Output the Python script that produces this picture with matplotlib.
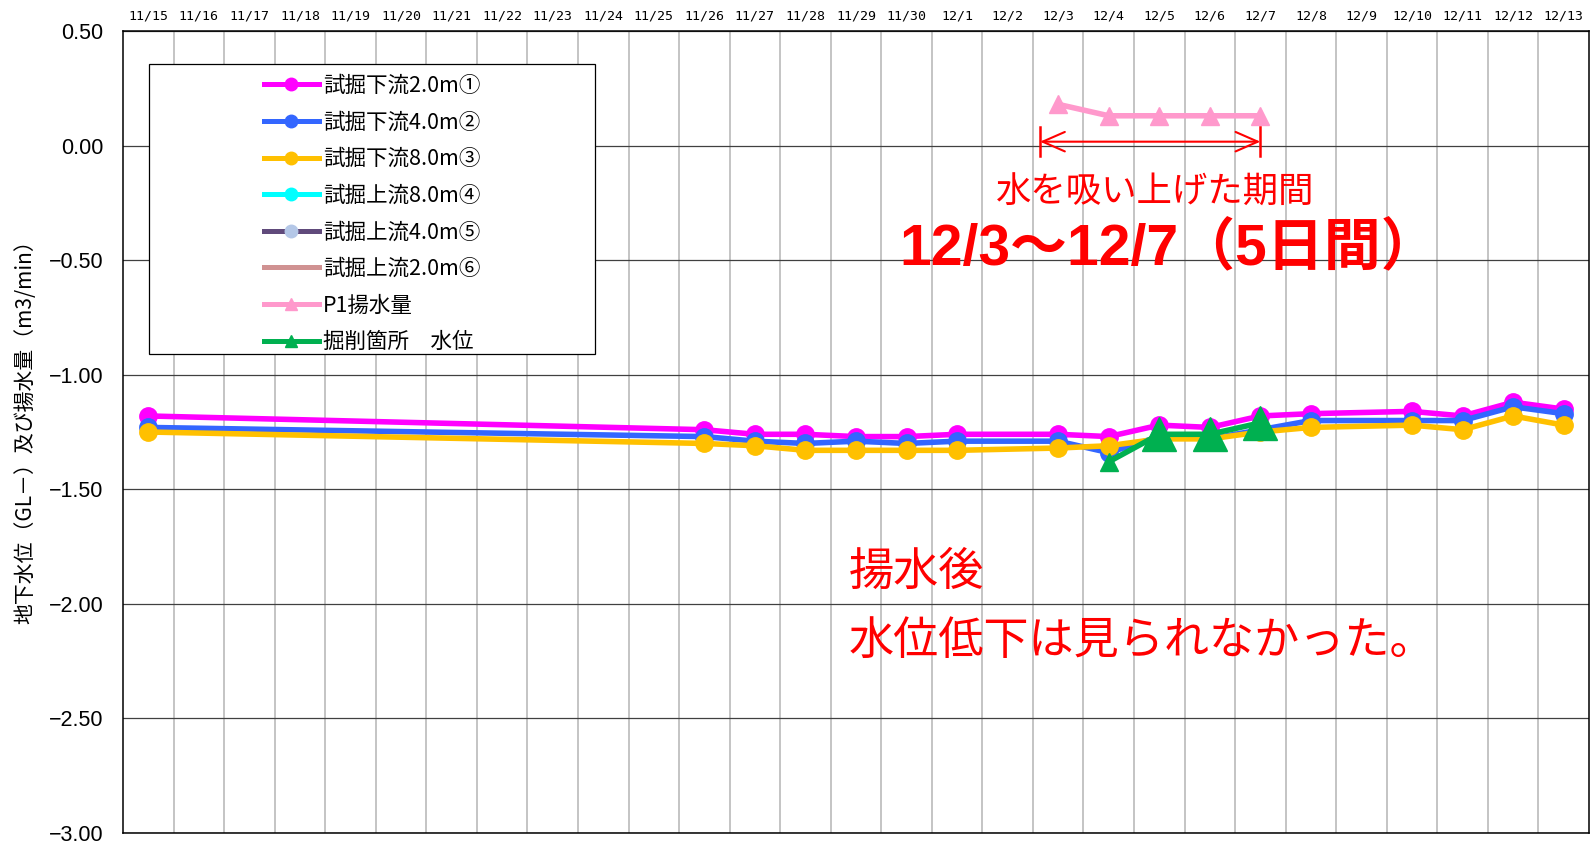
import numpy as np
import matplotlib
matplotlib.use("Agg")
import matplotlib.pyplot as plt
from matplotlib.lines import Line2D
from matplotlib.patches import Rectangle

plt.rcParams['font.family'] = ['Liberation Sans', 'Noto Sans CJK JP', 'DejaVu Sans']

# ---- data -------------------------------------------------------------
dates = ["11/15", "11/16", "11/17", "11/18", "11/19", "11/20", "11/21", "11/22",
         "11/23", "11/24", "11/25", "11/26", "11/27", "11/28", "11/29", "11/30",
         "12/1", "12/2", "12/3", "12/4", "12/5", "12/6", "12/7", "12/8", "12/9",
         "12/10", "12/11", "12/12", "12/13"]
N = np.nan
down_2m = [-1.18, N, N, N, N, N, N, N, N, N, N, -1.24, -1.26, -1.26, -1.27, -1.27,
           -1.26, N, -1.26, -1.27, -1.22, -1.23, -1.18, -1.17, N, -1.16, -1.18, -1.12, -1.15]
down_4m = [-1.23, N, N, N, N, N, N, N, N, N, N, -1.27, -1.29, -1.30, -1.29, -1.30,
           -1.29, N, -1.29, -1.34, -1.27, -1.28, -1.24, -1.20, N, -1.20, -1.20, -1.14, -1.17]
down_8m = [-1.25, N, N, N, N, N, N, N, N, N, N, -1.30, -1.31, -1.33, -1.33, -1.33,
           -1.33, N, -1.32, -1.31, -1.28, -1.28, -1.25, -1.23, N, -1.22, -1.24, -1.18, -1.22]
up_8m = [N] * 29
up_4m = [N] * 29
up_2m = [N] * 29
pump_p1 = [N] * 18 + [0.18, 0.13, 0.13, 0.13, 0.13] + [N] * 6
pit_level = [N] * 19 + [-1.38, -1.26, -1.26, -1.21] + [N] * 6

series_labels = ["試掘下流2.0m①", "試掘下流4.0m②", "試掘下流8.0m③", "試掘上流8.0m④",
                 "試掘上流4.0m⑤", "試掘上流2.0m⑥", "P1揚水量", "掘削箇所　水位"]
yticks = [0.50, 0.00, -0.50, -1.00, -1.50, -2.00, -2.50, -3.00]

# ---- figure -----------------------------------------------------------
W, H = 1595, 844
fig = plt.figure(figsize=(W / 100, H / 100), dpi=100)
ax = fig.add_axes([123 / W, 1 - 833 / H, (1589 - 123) / W, (833 - 31) / H])

x = np.arange(len(dates))


def draw(values, color, marker=None, ms=12.5, lw=4.0, z=3, mec=None):
    v = np.asarray(values, dtype=float)
    ok = ~np.isnan(v)
    if ok.any():
        ax.plot(x[ok], v[ok], color=color, lw=lw, marker=marker, ms=ms,
                mec=mec or color, mfc=color, zorder=z, solid_joinstyle='round',
                solid_capstyle='round')


draw(down_2m, '#FF00FF', 'o', 12.5, z=3.0)
draw(down_4m, '#3366FF', 'o', 12.5, z=3.1)
draw(down_8m, '#FFC000', 'o', 12.5, z=3.2)
draw(up_8m, '#00FFFF', 'o', z=3.3)
draw(up_4m, '#604A7B', 'o', z=3.4)
draw(up_2m, '#D09292', None, z=3.5)
draw(pump_p1, '#FF99CC', '^', 12.5, z=3.6)

# excavation water level: first reading small, later readings emphasised
pit = np.asarray(pit_level, dtype=float)
ok = ~np.isnan(pit)
ax.plot(x[ok], pit[ok], color='#00B050', lw=4.0, zorder=3.7, solid_joinstyle='round')
pit_idx = x[ok]
ax.plot(pit_idx[:1], pit[ok][:1], ls='none', marker='^', ms=12.5, color='#00B050', zorder=3.8)
ax.plot(pit_idx[1:], pit[ok][1:], ls='none', marker='^', ms=24, color='#00B050', zorder=3.8)

# ---- axes -------------------------------------------------------------
ax.set_xlim(-0.5, len(dates) - 0.5)
ax.set_ylim(-3.0, 0.5)
ax.set_yticks(yticks)
ax.set_yticklabels([f"{t:.2f}".replace("-", "\u2212") for t in yticks], fontsize=15.5)
ax.tick_params(axis='y', length=0, pad=14)

ax.set_xticks(x)
ax.set_xticklabels(dates, fontsize=9.5, family='DejaVu Sans Mono')
ax.xaxis.tick_top()
ax.tick_params(axis='x', which='major', length=0, pad=6)
ax.set_xticks(x[:-1] + 0.5, minor=True)
ax.tick_params(axis='x', which='minor', length=0)

ax.grid(True, axis='x', which='minor', color='#BFBFBF', lw=1.3, zorder=1)
ax.grid(True, axis='y', which='major', color='#404040', lw=0.9, zorder=1)
ax.set_axisbelow(True)
for s in ax.spines.values():
    s.set_color('#000000')
    s.set_linewidth(1.1)

fig.text(25 / W, 1 - 427 / H, "地下水位（GL－）及び揚水量（m3/min）", rotation=90,
         ha='center', va='center', fontsize=15, family=['Noto Sans CJK JP'])

# ---- legend -----------------------------------------------------------
box = Rectangle((149 / W, 1 - 354 / H), 446 / W, 290 / H, transform=fig.transFigure,
                facecolor='white', edgecolor='black', lw=0.9, zorder=4.5)
ax.add_patch(box)

handles = [
    Line2D([], [], color='#FF00FF', lw=3.6, marker='o', ms=9),
    Line2D([], [], color='#3366FF', lw=3.6, marker='o', ms=9),
    Line2D([], [], color='#FFC000', lw=3.6, marker='o', ms=9),
    Line2D([], [], color='#00FFFF', lw=3.6, marker='o', ms=9),
    Line2D([], [], color='#604A7B', lw=3.6, marker='o', ms=9, mfc='#B4C7E7', mec='#B4C7E7'),
    Line2D([], [], color='#D09292', lw=3.6),
    Line2D([], [], color='#FF99CC', lw=3.6, marker='^', ms=9),
    Line2D([], [], color='#00B050', lw=3.6, marker='^', ms=9),
]
leg = ax.legend(handles, series_labels, loc='center',
                bbox_to_anchor=(372 / W, 1 - 214 / H), bbox_transform=fig.transFigure,
                frameon=False, handlelength=2.55, handletextpad=0.2,
                labelspacing=0.68, borderpad=0.2,
                prop={'family': ['Noto Sans CJK JP'], 'size': 15.5})
leg.set_zorder(5)

# ---- pumping-period annotation -----------------------------------------
red = '#FF0000'
x_start, x_end, y_arrow = 17.64, 22.0, 0.017
ax.annotate("", xy=(x_end, y_arrow), xytext=(x_start, y_arrow),
            arrowprops=dict(arrowstyle='<->,head_length=0.8,head_width=0.35',
                            color=red, lw=1.5, shrinkA=0, shrinkB=0, mutation_scale=20),
            zorder=6)
for xe in (x_start, x_end):
    ax.plot([xe, xe], [0.083, -0.045], color=red, lw=1.8, zorder=6)

ax.text(19.92, -0.205, "水を吸い上げた期間", color=red, fontsize=25.5,
        ha='center', va='center', family=['Noto Sans CJK JP'], zorder=6)
ax.text(20.18, -0.455, "12/3～12/7（5日間）", color=red, fontsize=41, fontweight='bold',
        ha='center', va='center', family=['Liberation Sans', 'Noto Sans CJK JP'], zorder=6)

ax.text(13.86, -1.86, "揚水後", color=red, fontsize=32.5, ha='left', va='center',
        family=['Noto Sans CJK JP'], zorder=6)
ax.text(13.86, -2.16, "水位低下は見られなかった。", color=red, fontsize=32.5, ha='left',
        va='center', family=['Noto Sans CJK JP'], zorder=6)

fig.savefig("out.png", dpi=100)
